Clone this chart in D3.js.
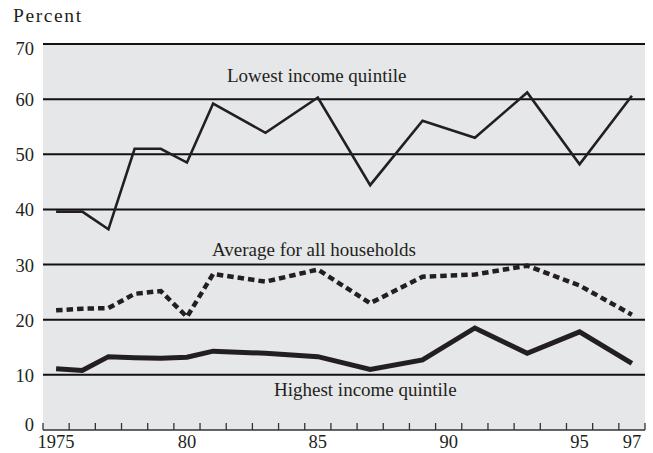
<!DOCTYPE html>
<html><head><meta charset="utf-8">
<script src="https://cdn.jsdelivr.net/npm/d3@7"></script>
<style>body{margin:0;background:#fff}svg{display:block}text{font-family:"Liberation Serif","DejaVu Serif",serif;fill:#231f20}</style>
</head><body><svg id="c" width="653" height="453"></svg>
<script>
const years = [1975,1976,1977,1978,1979,1980,1981,1983,1985,1987,1989,1991,1993,1995,1997];
const lowest  = [39.6,39.6,36.4,51.0,51.0,48.5,59.2,53.9,60.3,44.4,56.1,53.0,61.2,48.2,60.6];
const average = [21.7,22.0,22.1,24.7,25.2,20.5,28.3,26.9,29.1,23.0,27.8,28.2,29.8,26.2,20.9];
const highest = [11.1,10.8,13.3,13.1,13.0,13.2,14.3,13.9,13.3,11.0,12.7,18.5,13.9,17.8,12.1];
const yTicks = [0,10,20,30,40,50,60,70];
const xTickYears = [1975,1980,1985,1990,1995,1997];
const xTickLabels = ["1975","80","85","90","95","97"];
const seriesLabels = ["Lowest income quintile","Average for all households","Highest income quintile"];

const svg = d3.select("#c");
const L=43,R=645,T=44,B=430;
const allYears = d3.range(1975,1998);
const xb = d3.scaleBand().domain(allYears).range([L,R]).padding(0);
const xc = y => xb(y)+xb.bandwidth()/2;
const y = d3.scaleLinear().domain([0,70]).range([B,T]);

svg.append("rect").attr("x",L).attr("y",T).attr("width",R-L).attr("height",B-T).attr("fill","#e6e7e8");

// grid
svg.append("g").selectAll("line").data(yTicks.filter(d=>d>0)).join("line")
  .attr("x1",L).attr("x2",R).attr("y1",d=>y(d)).attr("y2",d=>y(d))
  .attr("stroke","#111").attr("stroke-width",2);

// y axis labels
svg.append("g").selectAll("text").data(yTicks).join("text")
  .attr("x",34).attr("y",d=>d===0? y(d)+1 : d===70 ? y(d)+11 : y(d)+7).attr("text-anchor","end")
  .attr("font-size",18.5).text(d=>d);
svg.append("text").attr("x",13).attr("y",22).attr("font-size",19.5).attr("letter-spacing",1.6).text("Percent");

// x axis
svg.append("line").attr("x1",L).attr("x2",R).attr("y1",B).attr("y2",B).attr("stroke","#333").attr("stroke-width",1.5);
const tickPos = allYears.map(d=>xb(d)).concat([R]);
svg.append("g").selectAll("line").data(tickPos).join("line")
  .attr("x1",d=>d).attr("x2",d=>d).attr("y1",B).attr("y2",B-7).attr("stroke","#333").attr("stroke-width",1.3);
svg.append("g").selectAll("text").data(xTickYears).join("text")
  .attr("x",d=>xc(d)).attr("y",448).attr("text-anchor","middle").attr("font-size",18.5)
  .text((d,i)=>xTickLabels[i]);

const line = d3.line().x((d,i)=>xc(years[i])).y(d=>y(d));
svg.append("path").datum(lowest).attr("d",line).attr("fill","none").attr("stroke","#231f20").attr("stroke-width",2.6).attr("stroke-linejoin","miter");
svg.append("path").datum(average).attr("d",line).attr("fill","none").attr("stroke","#231f20").attr("stroke-width",4.5).attr("stroke-dasharray","6.5,4");
svg.append("path").datum(highest).attr("d",line).attr("fill","none").attr("stroke","#231f20").attr("stroke-width",5).attr("stroke-linejoin","miter");

svg.append("text").attr("x",227).attr("y",82).attr("font-size",19).text(seriesLabels[0]);
svg.append("text").attr("x",212).attr("y",256).attr("font-size",19).text(seriesLabels[1]);
svg.append("text").attr("x",274).attr("y",396).attr("font-size",19).text(seriesLabels[2]);
</script></body></html>
